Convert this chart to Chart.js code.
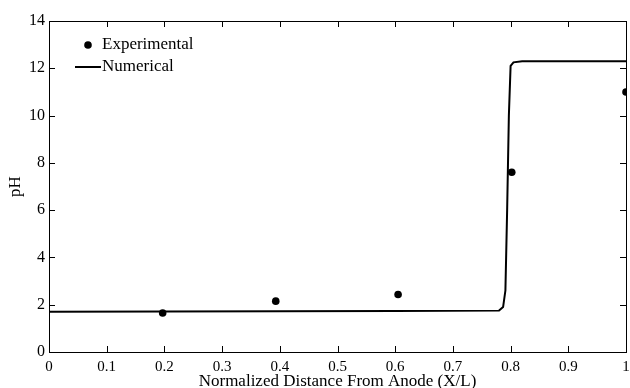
<!DOCTYPE html>
<html>
<head>
<meta charset="utf-8">
<script src="https://cdn.jsdelivr.net/npm/chart.js@4"></script>
<style>
  html, body { margin: 0; padding: 0; background: #fff; }
  #wrap { width: 630px; height: 388px; position: relative; }
</style>
</head>
<body>
<div id="wrap"><canvas id="ph-chart" width="630" height="388"></canvas></div>
<script>
// experimental measurements
const expX = [0.197, 0.393, 0.605, 0.802, 1.0];
const expPH = [1.65, 2.15, 2.43, 7.6, 11.0];

// numerical profile
const numX = [0, 0.2, 0.4, 0.6, 0.78, 0.787, 0.791, 0.794, 0.797, 0.8, 0.805, 0.82, 1.0];
const numPH = [1.7, 1.71, 1.72, 1.73, 1.75, 1.9, 2.6, 6.0, 10.0, 12.1, 12.25, 12.3, 12.3];

const xTicks = [0, 0.1, 0.2, 0.3, 0.4, 0.5, 0.6, 0.7, 0.8, 0.9, 1];
const xTickLabels = ['0', '0.1', '0.2', '0.3', '0.4', '0.5', '0.6', '0.7', '0.8', '0.9', '1'];
const yTicks = [0, 2, 4, 6, 8, 10, 12, 14];

const fontFamily = '"Liberation Serif", "Times New Roman", serif';

// box + inward ticks on all four sides, plus the in-plot legend
const frame = {
  id: 'frame',
  afterDraw(chart) {
    const { ctx, chartArea: a, scales } = chart;
    ctx.save();
    ctx.strokeStyle = '#000';
    ctx.lineWidth = 1;
    ctx.strokeRect(a.left + 0.5, a.top + 0.5, a.right - a.left, a.bottom - a.top);
    ctx.beginPath();
    xTicks.forEach(v => {
      const px = Math.round(scales.x.getPixelForValue(v)) + 0.5;
      ctx.moveTo(px, a.bottom); ctx.lineTo(px, a.bottom - 6);
      ctx.moveTo(px, a.top); ctx.lineTo(px, a.top + 6);
    });
    yTicks.forEach(v => {
      const py = Math.round(scales.y.getPixelForValue(v)) + 0.5;
      ctx.moveTo(a.left, py); ctx.lineTo(a.left + 6, py);
      ctx.moveTo(a.right, py); ctx.lineTo(a.right - 6, py);
    });
    ctx.stroke();

    // legend
    ctx.fillStyle = '#000';
    ctx.beginPath();
    ctx.arc(88, 45, 3.8, 0, Math.PI * 2);
    ctx.fill();
    ctx.lineWidth = 2;
    ctx.beginPath();
    ctx.moveTo(75, 67); ctx.lineTo(101, 67);
    ctx.stroke();
    ctx.font = '17px ' + fontFamily;
    ctx.textBaseline = 'middle';
    ctx.textAlign = 'left';
    ctx.fillText('Experimental', 102, 45);
    ctx.fillText('Numerical', 102, 67);
    ctx.restore();
  }
};

const ctx = document.getElementById('ph-chart').getContext('2d');
new Chart(ctx, {
  type: 'scatter',
  data: {
    datasets: [
      {
        label: 'Experimental',
        data: expX.map((x, i) => ({ x, y: expPH[i] })),
        pointRadius: 3.8,
        pointBackgroundColor: '#000',
        pointBorderColor: '#000',
        pointBorderWidth: 0,
        showLine: false,
      },
      {
        label: 'Numerical',
        data: numX.map((x, i) => ({ x, y: numPH[i] })),
        showLine: true,
        borderColor: '#000',
        borderWidth: 2,
        pointRadius: 0,
        tension: 0,
      },
    ],
  },
  options: {
    responsive: false,
    animation: false,
    layout: { padding: { top: 21, right: 0, left: 0, bottom: 0 } },
    plugins: {
      legend: { display: false },
      tooltip: { enabled: false },
    },
    scales: {
      x: {
        type: 'linear',
        min: 0,
        max: 1,
        afterBuildTicks: s => { s.ticks = xTicks.map(v => ({ value: v })); },
        afterFit: s => { s.height = 36; s.paddingRight = 4; s.paddingLeft = 0; },
        grid: { display: false, drawTicks: false },
        border: { display: false },
        ticks: {
          color: '#000', padding: 6, maxRotation: 0, autoSkip: false,
          font: { family: fontFamily, size: 15 },
          callback: (v, i) => xTickLabels[i],
        },
        title: { display: true, text: 'Normalized Distance From Anode (X/L)', color: '#000', padding: { top: 0, bottom: -4 }, font: { family: fontFamily, size: 17 } },
      },
      y: {
        min: 0,
        max: 14,
        afterBuildTicks: s => { s.ticks = yTicks.map(v => ({ value: v })); },
        afterFit: s => { s.width = 49; },
        grid: { display: false, drawTicks: false },
        border: { display: false },
        ticks: { color: '#000', padding: 4, font: { family: fontFamily, size: 16 } },
        title: { display: true, text: 'pH', color: '#000', padding: { top: 5, bottom: 0 }, font: { family: fontFamily, size: 17 } },
      },
    },
  },
  plugins: [frame],
});
</script>
</body>
</html>
